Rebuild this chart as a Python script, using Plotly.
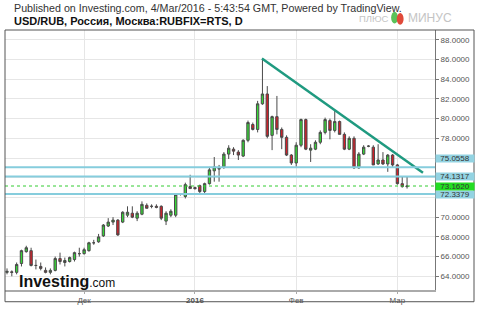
import plotly.graph_objects as go

# ---- data ----
opens = [64.4,64.45,64.4,65.3,66.5,66.6,65.1,65.0,64.6,64.4,
         64.6,65.8,65.4,65.5,65.7,66.3,66.3,66.6,67.4,67.5,
         68.1,69.1,69.5,69.7,69.5,70.2,70.4,69.9,70.3,71.2,
         71.1,71.1,71.1,69.6,70.2,70.2,72.3,72.1,73.1,73.0,
         73.2,72.6,73.4,74.7,74.95,75.1,76.4,76.9,76.6,76.2,
         77.8,79.4,78.9,81.5,82.5,78.3,80.2,78.9,78.1,76.3,
         75.5,77.3,79.9,76.8,76.9,77.6,78.6,79.8,78.8,79.7,
         78.4,76.9,78.0,75.0,76.4,77.2,77.1,75.4,75.8,75.4,
         76.3,75.3,73.4,73.1]
closes = [64.5,64.4,65.2,66.6,66.9,65.1,65.1,64.8,64.4,64.6,
          65.8,65.5,65.6,65.9,66.4,66.3,66.7,67.4,67.4,68.0,
          69.2,69.5,69.7,68.2,70.5,70.5,70.0,70.4,71.3,70.9,
          71.1,71.0,69.9,70.4,70.6,72.3,72.3,73.3,72.9,72.9,
          72.6,73.4,74.8,75.1,74.9,76.4,77.0,76.7,76.3,77.8,
          79.6,78.9,81.5,82.5,78.2,80.2,78.9,78.1,76.3,75.5,
          77.3,79.9,76.9,77.0,77.6,78.6,79.9,78.8,79.7,78.4,
          76.9,78.0,75.0,76.4,77.1,77.2,75.3,75.8,75.4,76.3,
          75.3,73.4,73.1,73.162]
highs = [64.8,64.6,65.4,66.7,67.1,66.9,65.7,65.4,64.9,64.8,
         66.0,66.4,65.9,66.0,66.5,66.9,66.9,67.5,67.7,68.3,
         69.3,69.9,70.0,69.8,70.6,71.1,71.1,70.6,71.6,71.4,
         71.3,71.3,71.2,70.6,70.8,72.4,72.4,73.5,74.3,73.1,
         73.3,73.5,75.1,76.1,75.3,76.6,77.3,77.1,76.8,77.9,
         79.8,79.6,81.8,86.1,83.3,80.3,82.3,79.1,78.3,76.4,
         77.6,80.0,80.0,77.4,77.8,78.8,80.1,80.0,80.8,79.8,
         78.6,78.2,78.2,76.6,77.3,77.3,77.3,77.4,76.6,76.4,
         76.4,75.4,74.1,74.1]
lows = [64.2,64.0,64.2,65.0,66.4,65.0,64.7,64.6,64.3,64.2,
        64.5,65.2,65.0,65.4,65.5,66.0,66.2,66.5,67.2,67.4,
        68.0,69.0,69.2,68.1,69.4,70.0,69.9,69.6,70.2,70.9,
        70.9,70.9,69.7,69.2,70.0,70.0,72.2,71.9,72.9,72.8,
        72.4,72.4,73.3,73.6,73.6,74.9,75.9,76.3,75.8,76.1,
        77.6,78.8,78.6,81.4,78.0,76.8,78.4,76.9,76.2,75.3,
        75.1,77.1,76.8,75.6,76.8,77.4,78.4,77.9,78.6,78.4,
        76.8,76.8,74.9,74.9,76.3,77.1,75.3,75.3,75.3,74.6,
        75.1,73.3,73.0,72.9]
bar_index = list(range(len(opens)))

month_ticks = [16, 39, 60, 81]
month_labels = ["Дек", "<b>2016</b>", "Фев", "Мар"]

price_ticks = [64, 66, 68, 70, 72, 74, 76, 78, 80, 82, 84, 86, 88]
price_labels = ["64.0000", "66.0000", "68.0000", "70.0000", "", "", "",
                "78.0000", "80.0000", "82.0000", "84.0000", "86.0000", "88.0000"]

levels = [75.0558, 74.1317, 72.3379]
level_label_y = [75.93, 74.1317, 72.3379]
last_price = 73.162

trend_x = [52.9, 86.3]
trend_y = [86.1, 74.5]

FONT = "Arial, Liberation Sans, sans-serif"

fig = go.Figure()

fig.add_trace(go.Candlestick(
    x=bar_index, open=opens, high=highs, low=lows, close=closes,
    increasing=dict(fillcolor="#36d636", line=dict(color="#4a4a4a", width=1)),
    decreasing=dict(fillcolor="#d0202a", line=dict(color="#4a4a4a", width=1)),
    whiskerwidth=0, hoverinfo="skip", showlegend=False,
))

fig.add_trace(go.Scatter(
    x=trend_x, y=trend_y, mode="lines",
    line=dict(color="#1f9a80", width=2.5), hoverinfo="skip", showlegend=False,
))

shapes = []
for lv in levels:
    shapes.append(dict(type="line", xref="paper", yref="y", x0=0, x1=1, y0=lv, y1=lv,
                       line=dict(color="#86cddd", width=2), layer="above"))
shapes.append(dict(type="line", xref="paper", yref="y", x0=0, x1=1, y0=last_price, y1=last_price,
                   line=dict(color="#33cc33", width=1, dash="dot"), layer="above"))
# outer frame
shapes.append(dict(type="rect", xref="paper", yref="paper", x0=0, x1=1.0907, y0=-0.0451, y1=1,
                   line=dict(color="#555555", width=1)))

annotations = []
for lv, ly in zip(levels, level_label_y):
    annotations.append(dict(xref="paper", yref="y", x=1.0, y=ly, xanchor="left", yanchor="middle",
                            text=f"{lv:.4f}", showarrow=False, width=38, height=7,
                            bgcolor="#93d3e2", font=dict(family=FONT, size=8, color="#333333"),
                            borderpad=0))
annotations.append(dict(xref="paper", yref="y", x=1.0, y=last_price, xanchor="left", yanchor="middle",
                        text=f"{last_price:.4f}", showarrow=False, width=38, height=7,
                        bgcolor="#22dd22", font=dict(family=FONT, size=8, color="#333333"),
                        borderpad=0))
annotations.append(dict(xref="paper", yref="paper", x=0.0163, y=1.0827, xanchor="left", yanchor="middle",
                        text="Published on Investing.com, 4/Mar/2016 - 5:43:54 GMT, Powered by TradingView.",
                        showarrow=False, font=dict(family=FONT, size=10.7, color="#333333")))
annotations.append(dict(xref="paper", yref="paper", x=0.0163, y=1.0338, xanchor="left", yanchor="middle",
                        text="<b>USD/RUB, Россия, Москва:RUBFIX=RTS, D</b>",
                        showarrow=False, font=dict(family=FONT, size=11, color="#111111")))
annotations.append(dict(xref="paper", yref="paper", x=0.818, y=1.045, xanchor="left", yanchor="middle",
                        text="ПЛЮС", showarrow=False, font=dict(family=FONT, size=9.5, color="#c4c4c4")))
annotations.append(dict(xref="paper", yref="paper", x=0.932, y=1.045, xanchor="left", yanchor="middle",
                        text="МИНУС", showarrow=False, font=dict(family=FONT, size=12, color="#c4c4c4")))
annotations.append(dict(xref="paper", yref="paper", x=0.028, y=0.034, xanchor="left", yanchor="middle",
                        text="<b>Investing</b><span style='font-size:12px'>.com</span>",
                        showarrow=False, font=dict(family=FONT, size=16, color="#111111")))

# small logo mark
shapes.append(dict(type="circle", xref="paper", yref="paper", x0=0.898, x1=0.914, y0=1.025, y1=1.07,
                   fillcolor="#5ac25a", line=dict(width=0)))
shapes.append(dict(type="circle", xref="paper", yref="paper", x0=0.911, x1=0.927, y0=1.02, y1=1.065,
                   fillcolor="#e04a3a", line=dict(width=0)))

fig.update_layout(
    width=480, height=310,
    margin=dict(l=5, r=45, t=30, b=14),
    paper_bgcolor="white", plot_bgcolor="white",
    shapes=shapes, annotations=annotations,
    font=dict(family=FONT),
    xaxis=dict(range=[-0.415, 88.8], tickvals=month_ticks, ticktext=month_labels,
               showgrid=True, gridcolor="#e6e6e6", gridwidth=1,
               showline=True, linecolor="#aaaaaa", linewidth=1.5,
               ticks="outside", ticklen=2, tickcolor="#aaaaaa",
               tickfont=dict(family=FONT, size=8, color="#555555"),
               rangeslider=dict(visible=False), zeroline=False, fixedrange=True),
    yaxis=dict(side="right", range=[62.61, 88.99], tickvals=price_ticks, ticktext=price_labels,
               showgrid=True, gridcolor="#e6e6e6", gridwidth=1,
               showline=True, linecolor="#777777", linewidth=1,
               ticks="outside", ticklen=3, tickcolor="#777777",
               tickfont=dict(family=FONT, size=8, color="#555555"),
               zeroline=False, fixedrange=True),
    hovermode=False,
)

fig.write_html("out.html")
